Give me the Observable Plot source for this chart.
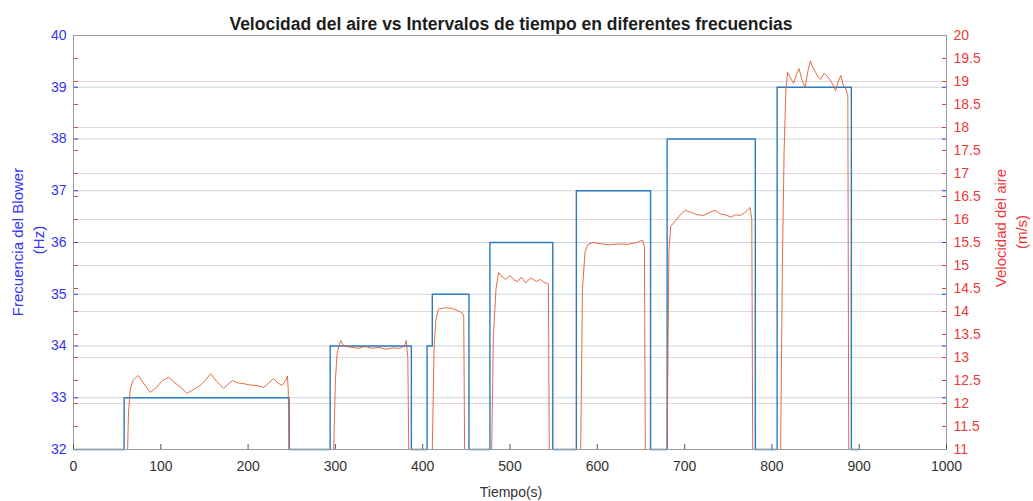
<!DOCTYPE html>
<html><head><meta charset="utf-8">
<script src="https://cdn.jsdelivr.net/npm/d3@7"></script>
<script src="https://cdn.jsdelivr.net/npm/@observablehq/plot@0.6"></script>
<style>
body{margin:0;background:#fff;font-family:"Liberation Sans",Arial,sans-serif;}
#wrap{position:relative;width:1033px;height:501px;overflow:hidden;}
#wrap svg{position:absolute;left:0;top:0;}
.lbl{position:absolute;white-space:nowrap;transform:translate(-50%,-50%);line-height:1;}
.rot{transform:translate(-50%,-50%) rotate(-90deg);}
</style></head><body><div id="wrap"></div>
<script>
// ---- data ----
const titleText = "Velocidad del aire vs Intervalos de tiempo en diferentes frecuencias";
const xLabel = "Tiempo(s)";
const leftLabel = ["Frecuencia del Blower", "(Hz)"];
const rightLabel = ["Velocidad del aire", "(m/s)"];

const xTicks = [0, 100, 200, 300, 400, 500, 600, 700, 800, 900, 1000];
const xTickLabels = ["0","100","200","300","400","500","600","700","800","900","1000"];
const freqTicks = [32, 33, 34, 35, 36, 37, 38, 39, 40];
const freqTickLabels = ["32","33","34","35","36","37","38","39","40"];
const velTicks = [11, 11.5, 12, 12.5, 13, 13.5, 14, 14.5, 15, 15.5, 16, 16.5, 17, 17.5, 18, 18.5, 19, 19.5, 20];
const velTickLabels = ["11","11.5","12","12.5","13","13.5","14","14.5","15","15.5","16","16.5","17","17.5","18","18.5","19","19.5","20"];
const velGrid = [12, 13, 14, 15, 16, 17, 18, 19];

// Frecuencia del Blower (Hz) — step series
const timeFreq = [0, 58, 58, 247, 247, 294, 294, 387, 387, 405, 405, 411, 411, 453, 453, 477, 477, 549, 549, 576, 576, 661, 661, 680, 680, 781, 781, 806, 806, 891, 891, 900];
const freq     = [32, 32, 33, 33, 32, 32, 34, 34, 32, 32, 34, 34, 35, 35, 32, 32, 36, 36, 32, 32, 37, 37, 32, 32, 38, 38, 32, 32, 39, 39, 32, 32];

// Velocidad del aire (m/s)
const timeVel = [0,62,63,65,68,74,80,88,95,102,109,116,123,130,137,145,151,157,164,172,177,182,188,195,203,210,218,224,229,234,239,243,245,246,247,
  298,300,302,306,310,318,326,334,342,350,358,366,374,379,381,383,384,
  411,413,415,418,425,433,440,445,447,448,
  479,481,484,487,491,495,500,505,509,513,518,522,525,530,535,538,541,544,545,
  581,583,586,589,595,605,615,625,635,645,652,654,655,
  680,682,684,690,695,701,708,715,722,728,735,741,747,753,758,764,769,775,777,778,
  810,812,814,816,818,822,825,828,831,835,838,841,844,847,850,853,856,860,864,868,873,876,879,882,884,887,888,900];
const vel = [11,11,11.8,12.3,12.5,12.61,12.45,12.24,12.35,12.5,12.57,12.45,12.35,12.22,12.3,12.39,12.5,12.65,12.48,12.33,12.42,12.5,12.45,12.43,12.4,12.39,12.35,12.45,12.54,12.45,12.39,12.5,12.6,12.3,11,
  11,12.5,13.1,13.37,13.25,13.22,13.2,13.24,13.2,13.22,13.18,13.21,13.2,13.25,13.37,13.0,11,
  11,13.2,13.8,14.05,14.08,14.07,14.02,13.97,13.9,11,
  11,13.5,14.5,14.85,14.75,14.7,14.78,14.68,14.65,14.75,14.62,14.7,14.72,14.65,14.7,14.64,14.62,14.6,11,
  11,14.5,15.3,15.45,15.5,15.47,15.45,15.47,15.46,15.5,15.55,15.4,11,
  11,15.3,15.85,15.98,16.1,16.2,16.15,16.1,16.09,16.15,16.2,16.12,16.1,16.05,16.1,16.09,16.15,16.26,16.0,11,
  11,15,17.5,18.8,19.2,19.05,18.96,19.15,19.28,19.0,18.87,19.2,19.45,19.3,19.2,19.1,19.05,19.18,19.1,19.0,18.8,19.0,19.13,18.9,18.88,18.7,11,11];

// ---- build ----
const freqData = timeFreq.map((t, i) => ({t, f: freq[i]}));
const velData = timeVel.map((t, i) => ({t, v: vel[i]}));

const BLUE_TXT = "#3434f2", RED_TXT = "#ee3a3a";
const BLUE_LINE = "#2a7cc0", RED_LINE = "#e25a30";
const FONT = "'Liberation Sans', Arial, sans-serif";

const common = {
  width: 1033, height: 501,
  marginTop: 35, marginRight: 87, marginBottom: 52, marginLeft: 73,
  x: {domain: [0, 1000]},
  style: {background: "transparent", fontFamily: FONT, fontSize: "14px", overflow: "visible"}
};

// layer 1: right axis (velocidad) grid + ticks + labels
const plotR = Plot.plot({
  ...common,
  x: {domain: [0, 1000], axis: null},
  y: {domain: [11, 20]},
  marks: [
    Plot.gridY(velGrid, {stroke: "#e2d6d6", strokeOpacity: 1}),
    Plot.axisY(velTicks, {anchor: "right", tickSize: 0, tickPadding: 7, fill: RED_TXT, label: null,
      tickFormat: d => velTickLabels[velTicks.indexOf(d)]}),
    Plot.axisY(velTicks, {anchor: "right", tickSize: 5, dx: -5, fill: "none", stroke: "#e04848", label: null}),
    Plot.axisY(velTicks, {anchor: "left", tickSize: 5, dx: 5, fill: "none", stroke: "#e04848", label: null})
  ]
});

// layer 2: left axis (frecuencia) grid + blue line + labels
const plotL = Plot.plot({
  ...common,
  x: {domain: [0, 1000], axis: null},
  y: {domain: [32, 40]},
  marks: [
    Plot.gridY(freqTicks.slice(1, -1), {stroke: "#cdd2dc", strokeOpacity: 1}),
    Plot.line(freqData, {x: "t", y: "f", stroke: BLUE_LINE, strokeWidth: 1.4}),
    Plot.axisY(freqTicks, {anchor: "left", tickSize: 0, tickPadding: 7, fill: BLUE_TXT, label: null,
      tickFormat: d => freqTickLabels[freqTicks.indexOf(d)]}),
    Plot.axisY(freqTicks, {anchor: "left", tickSize: 5, dx: 5, fill: "none", stroke: "#3a3ae8", label: null}),
    Plot.axisY(freqTicks, {anchor: "right", tickSize: 5, dx: -5, fill: "none", stroke: "#3a3ae8", label: null})
  ]
});

// layer 3: red line (velocidad) on top, plus frame and x axis
const plotV = Plot.plot({
  ...common,
  y: {domain: [11, 20], axis: null},
  marks: [
    Plot.line(velData, {x: "t", y: "v", stroke: RED_LINE, strokeWidth: 0.9}),
    Plot.frame({stroke: "#9a9a9a"}),
    Plot.axisX(xTicks, {tickSize: 0, tickPadding: 12, fill: "#333", label: null,
      tickFormat: d => xTickLabels[xTicks.indexOf(d)]}),
    Plot.axisX(xTicks, {tickSize: 5, dy: -5, fill: "none", stroke: "#555", label: null})
  ]
});

const wrap = document.getElementById("wrap");
wrap.append(plotR, plotL, plotV);

function addLabel(text, x, y, css, rotate) {
  const d = document.createElement("div");
  d.className = "lbl" + (rotate ? " rot" : "");
  d.textContent = text;
  d.style.left = x + "px";
  d.style.top = y + "px";
  Object.assign(d.style, css);
  wrap.append(d);
}
addLabel(titleText, 511, 25, {fontSize: "17.5px", fontWeight: "bold", color: "#1e1e1e"});
addLabel(xLabel, 511, 492, {fontSize: "14px", color: "#333"});
addLabel(leftLabel[0], 17, 242, {fontSize: "15px", color: BLUE_TXT}, true);
addLabel(leftLabel[1], 38, 240, {fontSize: "15px", color: BLUE_TXT}, true);
addLabel(rightLabel[0], 1000, 228, {fontSize: "15px", color: RED_TXT}, true);
addLabel(rightLabel[1], 1021, 232, {fontSize: "15px", color: RED_TXT}, true);
</script>
</body></html>
